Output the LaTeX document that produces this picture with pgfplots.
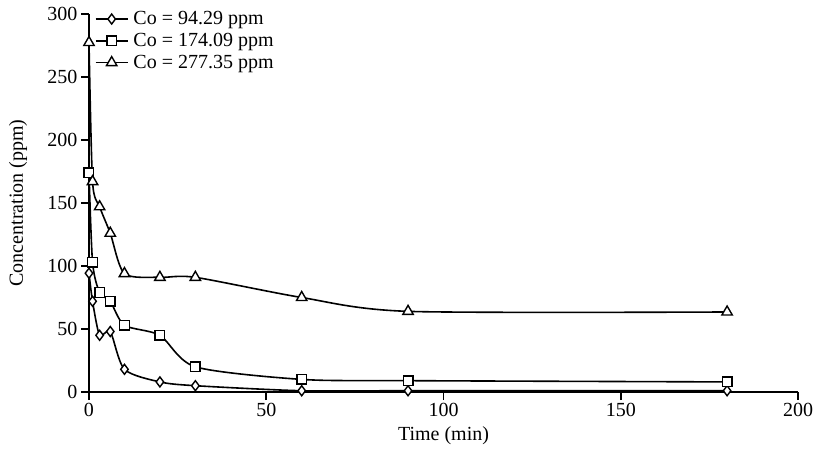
\documentclass[border=0pt]{standalone}
\usepackage{pgfplots}
\pgfplotsset{compat=1.18}
\usepackage{fontspec}
\setmainfont{Liberation Serif}

\pgfplotstableread{
t    a      b       c
0    94.29  174.09  277.35
1    72     103     167
3    45     79      147
6    48     72      126
10   18     53      94
20   8      45      91
30   5      20      91
60   1      10      75
90   1      9       64
180  1      8       63.5
}\kinetics

\pgfplotsset{
  series/.style={draw=black, line width=1.6pt, smooth, tension=0.45,
    mark options={solid, line width=1.4pt, draw=black, fill=white}},
}

\begin{document}
\begin{tikzpicture}[font=\fontsize{20}{22}\selectfont]
\begin{axis}[
  at={(0,0)}, anchor=south west,
  scale only axis, width=709pt, height=378pt,
  xmin=0, xmax=200, ymin=0, ymax=300,
  xtick={0,50,...,200}, ytick={0,50,...,300},
  axis lines=left, axis line style={-, line width=2.2pt},
  tick align=outside, major tick length=8pt,
  tick style={line width=1.8pt, black},
  /pgf/number format/assume math mode=true,
  tick label style={font=\fontsize{20}{22}\selectfont},
  xlabel={Time (min)}, ylabel={Concentration (ppm)},
  label style={font=\fontsize{20}{22}\selectfont},
  xlabel style={at={(axis description cs:0.5,-0.116)}, anchor=center},
  ylabel style={at={(axis description cs:-0.1,0.5)}, anchor=center},
  legend style={at={(axis description cs:0.008,1.012)}, anchor=north west,
    draw=none, fill=none, inner xsep=0pt, inner ysep=0pt,
    font=\fontsize{20}{22}\selectfont, row sep=3pt,
    cells={anchor=west},
    /tikz/every odd column/.append style={column sep=3pt}},
  legend image code/.code={\draw[#1, mark repeat=2, mark phase=2]
    plot coordinates {(0pt,0pt) (16pt,0pt) (32pt,0pt)};},
  clip=false,
]
\addplot[series, mark=diamond*, mark size=5pt] table[x=t, y=a] {\kinetics};
\addlegendentry{Co = 94.29 ppm}
\addplot[series, mark=square*, mark size=4.8pt] table[x=t, y=b] {\kinetics};
\addlegendentry{Co = 174.09 ppm}
\addplot[series, mark=triangle*, mark size=6pt] table[x=t, y=c] {\kinetics};
\addlegendentry{Co = 277.35 ppm}
\end{axis}
\pgfresetboundingbox
\path (-89pt,-63pt) rectangle (725pt,392pt);
\end{tikzpicture}
\end{document}
